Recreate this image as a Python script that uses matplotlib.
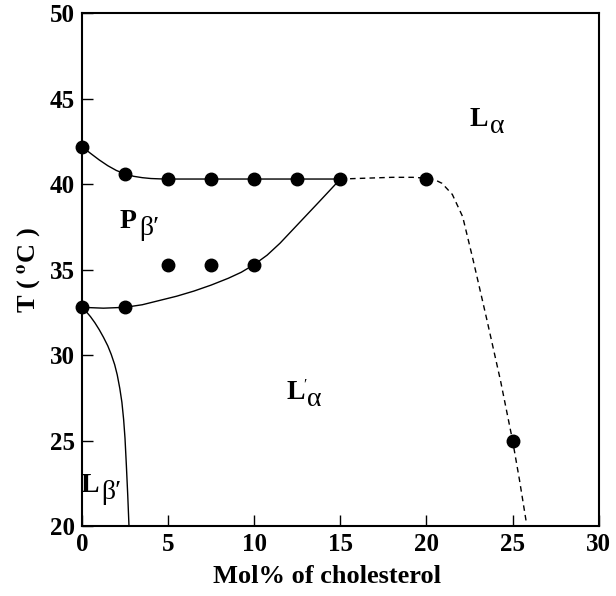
import matplotlib.pyplot as plt

plt.rcParams['font.family'] = 'Liberation Serif'
plt.rcParams['mathtext.fontset'] = 'stix'

# measured points (mol% cholesterol, T in C)
pts_x = [0, 2.5, 5, 7.5, 10, 12.5, 15, 20, 5, 7.5, 10, 0, 2.5, 25]
pts_y = [42.2, 40.6, 40.3, 40.3, 40.3, 40.3, 40.3, 40.3, 35.3, 35.3, 35.3, 32.8, 32.8, 25.0]

# phase boundaries
upper_x = [0, 0.5, 1.0, 1.5, 2.0, 2.5, 3.0, 3.5, 4.0, 4.5, 5, 7.5, 10, 12.5, 15]
upper_y = [42.2, 41.8, 41.42, 41.08, 40.8, 40.6, 40.46, 40.38, 40.33, 40.31, 40.3, 40.3, 40.3, 40.3, 40.3]

lower_x = [0, 1.25, 2.5, 3.5, 4.5, 5.5, 6.5, 7.5, 8.5, 9.25, 10, 10.75, 11.5, 12.25, 13, 13.75, 14.4, 15]
lower_y = [32.8, 32.75, 32.8, 32.95, 33.2, 33.45, 33.75, 34.1, 34.5, 34.85, 35.3, 35.85, 36.55,
           37.35, 38.15, 38.95, 39.65, 40.3]

gel_x = [0, 0.25, 0.5, 0.75, 1.0, 1.25, 1.5, 1.7, 1.9, 2.05, 2.2, 2.32, 2.42, 2.5, 2.58, 2.66, 2.73]
gel_y = [32.8, 32.55, 32.25, 31.9, 31.5, 31.05, 30.55, 30.05, 29.45, 28.85, 28.05, 27.25, 26.25,
         25.15, 23.55, 21.8, 20.05]

dash_x = [15, 16.5, 18, 19.2, 20, 20.5, 20.9, 21.5, 22.1, 22.7, 23.5, 24.3, 25, 25.4, 25.8]
dash_y = [40.3, 40.35, 40.4, 40.4, 40.35, 40.25, 40.05, 39.4, 38.1, 35.6, 32.1, 28.5, 25.0, 22.7, 20.2]

fig = plt.figure(figsize=(6.16, 5.96), dpi=100)
ax = fig.add_axes([0.133, 0.117, 0.839, 0.861])

ax.plot(upper_x, upper_y, color='black', lw=1)
ax.plot(lower_x, lower_y, color='black', lw=1)
ax.plot(gel_x, gel_y, color='black', lw=1)
ax.plot(dash_x, dash_y, color='black', lw=1, ls=(0, (4, 3)))
ax.plot(pts_x, pts_y, 'o', color='black', ms=9, clip_on=False, zorder=5)


def phase_label(x, y, main, sub, prime_on_main=False):
    # bold letter, then a plain greek subscript next to it
    ax.text(x, y, main, fontsize=20, fontweight='bold', ha='right', va='baseline')
    if prime_on_main:
        ax.annotate('\u2032', (x, y), xytext=(-1, 8), textcoords='offset points',
                    fontsize=11, ha='left', va='baseline')
    ax.annotate(sub, (x, y), xytext=(1.5, -5), textcoords='offset points',
                fontsize=20, ha='left', va='baseline')


phase_label(23.56, 43.4, 'L', '\u03b1')
phase_label(3.19, 37.43, 'P', '\u03b2\u2032')
phase_label(12.94, 27.43, 'L', '\u03b1', prime_on_main=True)
phase_label(0.99, 22.0, 'L', '\u03b2\u2032')

ax.set_xlim(0, 30)
ax.set_ylim(20, 50)
ax.set_xticks([0, 5, 10, 15, 20, 25, 30])
ax.set_yticks([20, 25, 30, 35, 40, 45, 50])
ax.tick_params(direction='in', length=8, width=1, labelsize=18, pad=5)
for lab in ax.get_xticklabels() + ax.get_yticklabels():
    lab.set_fontweight('bold')
for s in ax.spines.values():
    s.set_linewidth(1.5)

ax.set_xlabel('Mol% of cholesterol', fontsize=19, fontweight='bold', labelpad=6)
ax.xaxis.set_label_coords(0.474, -0.075)
ax.set_ylabel(r'T ( $^{\mathbf{o}}$C )', fontsize=19, fontweight='bold', labelpad=4)

fig.savefig('out.png', dpi=100)
